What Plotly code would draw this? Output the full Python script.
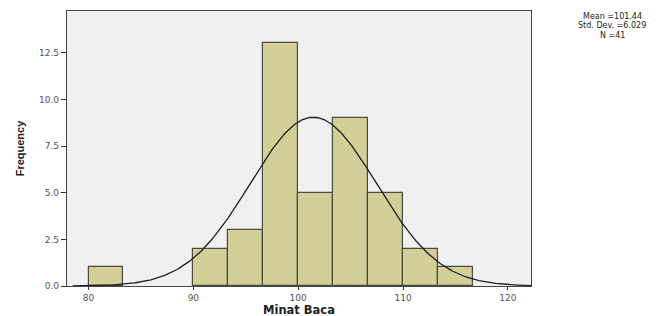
import numpy as np
import plotly.graph_objects as go

# Data
bin_starts = [80.0, 90.0, 93.333, 96.667, 100.0, 103.333, 106.667, 110.0, 113.333]
counts = [1, 2, 3, 13, 5, 9, 5, 2, 1]
bin_width = 3.3333
MEAN = 101.44
SD = 6.029
N = 41
x_ticks = [80, 90, 100, 110, 120]
y_ticks = [0.0, 2.5, 5.0, 7.5, 10.0, 12.5]
stat_lines = ["Mean =%.2f" % MEAN, "Std. Dev. =%.3f" % SD, "N =%d" % N]
x_title = "Minat Baca"
y_title = "Frequency"

centers = [b + bin_width / 2 for b in bin_starts]

xc = np.linspace(78.5, 122.2, 300)
yc = N * bin_width / (SD * np.sqrt(2 * np.pi)) * np.exp(-0.5 * ((xc - MEAN) / SD) ** 2)

fig = go.Figure()
fig.add_trace(go.Bar(
    x=centers, y=counts, width=bin_width,
    marker=dict(color="#D3CF98", line=dict(color="#4a4a40", width=1.2)),
    hoverinfo="skip",
))
fig.add_trace(go.Scatter(
    x=xc, y=yc, mode="lines",
    line=dict(color="#1e1e1e", width=1.3),
    hoverinfo="skip",
))

PLOT_H = 316 - 11 - 30

fig.update_layout(
    template="none",
    width=660, height=316,
    margin=dict(l=67, r=129, t=11, b=30),
    paper_bgcolor="white",
    plot_bgcolor="#F0F0F0",
    showlegend=False,
    bargap=0,
    font=dict(family="DejaVu Sans", color="#333"),
)
fig.update_xaxes(
    automargin=False,
    range=[77.95, 122.2],
    tickvals=x_ticks, ticktext=[str(t) for t in x_ticks],
    ticks="outside", ticklen=3, tickcolor="#333", tickwidth=1,
    tickfont=dict(size=9, color="#555", family="DejaVu Sans"),
    showgrid=False, zeroline=False,
    showline=True, linecolor="#444", linewidth=1.3, mirror=True,
)
fig.update_yaxes(
    automargin=False,
    range=[0, 14.74],
    tickvals=y_ticks, ticktext=["%.1f" % t for t in y_ticks],
    ticks="outside", ticklen=5, tickcolor="#333", tickwidth=1,
    tickfont=dict(size=9, color="#555", family="DejaVu Sans"),
    showgrid=False, zeroline=False,
    showline=True, linecolor="#444", linewidth=1.3, mirror=True,
    title=dict(text="<b>%s</b>" % y_title, font=dict(size=11, color="#222", family="Liberation Sans Narrow, Liberation Sans"), standoff=12),
)
fig.add_annotation(
    xref="paper", yref="paper", x=0.5, y=-(309.5 - 286) / PLOT_H,
    xanchor="center", yanchor="middle", showarrow=False,
    text="<b>%s</b>" % x_title,
    font=dict(size=11.5, color="#222", family="DejaVu Sans"),
)
for i, line in enumerate(stat_lines):
    fig.add_annotation(
        xref="paper", yref="paper", x=1.175, y=1.0 - (i * 9.5 - 1) / PLOT_H,
        xanchor="center", yanchor="top", showarrow=False, align="center",
        text=line,
        font=dict(size=8, color="#222", family="DejaVu Sans"),
    )

fig.write_html("out.html", post_script="document.body.style.margin='0';",
               config={"displayModeBar": False})
